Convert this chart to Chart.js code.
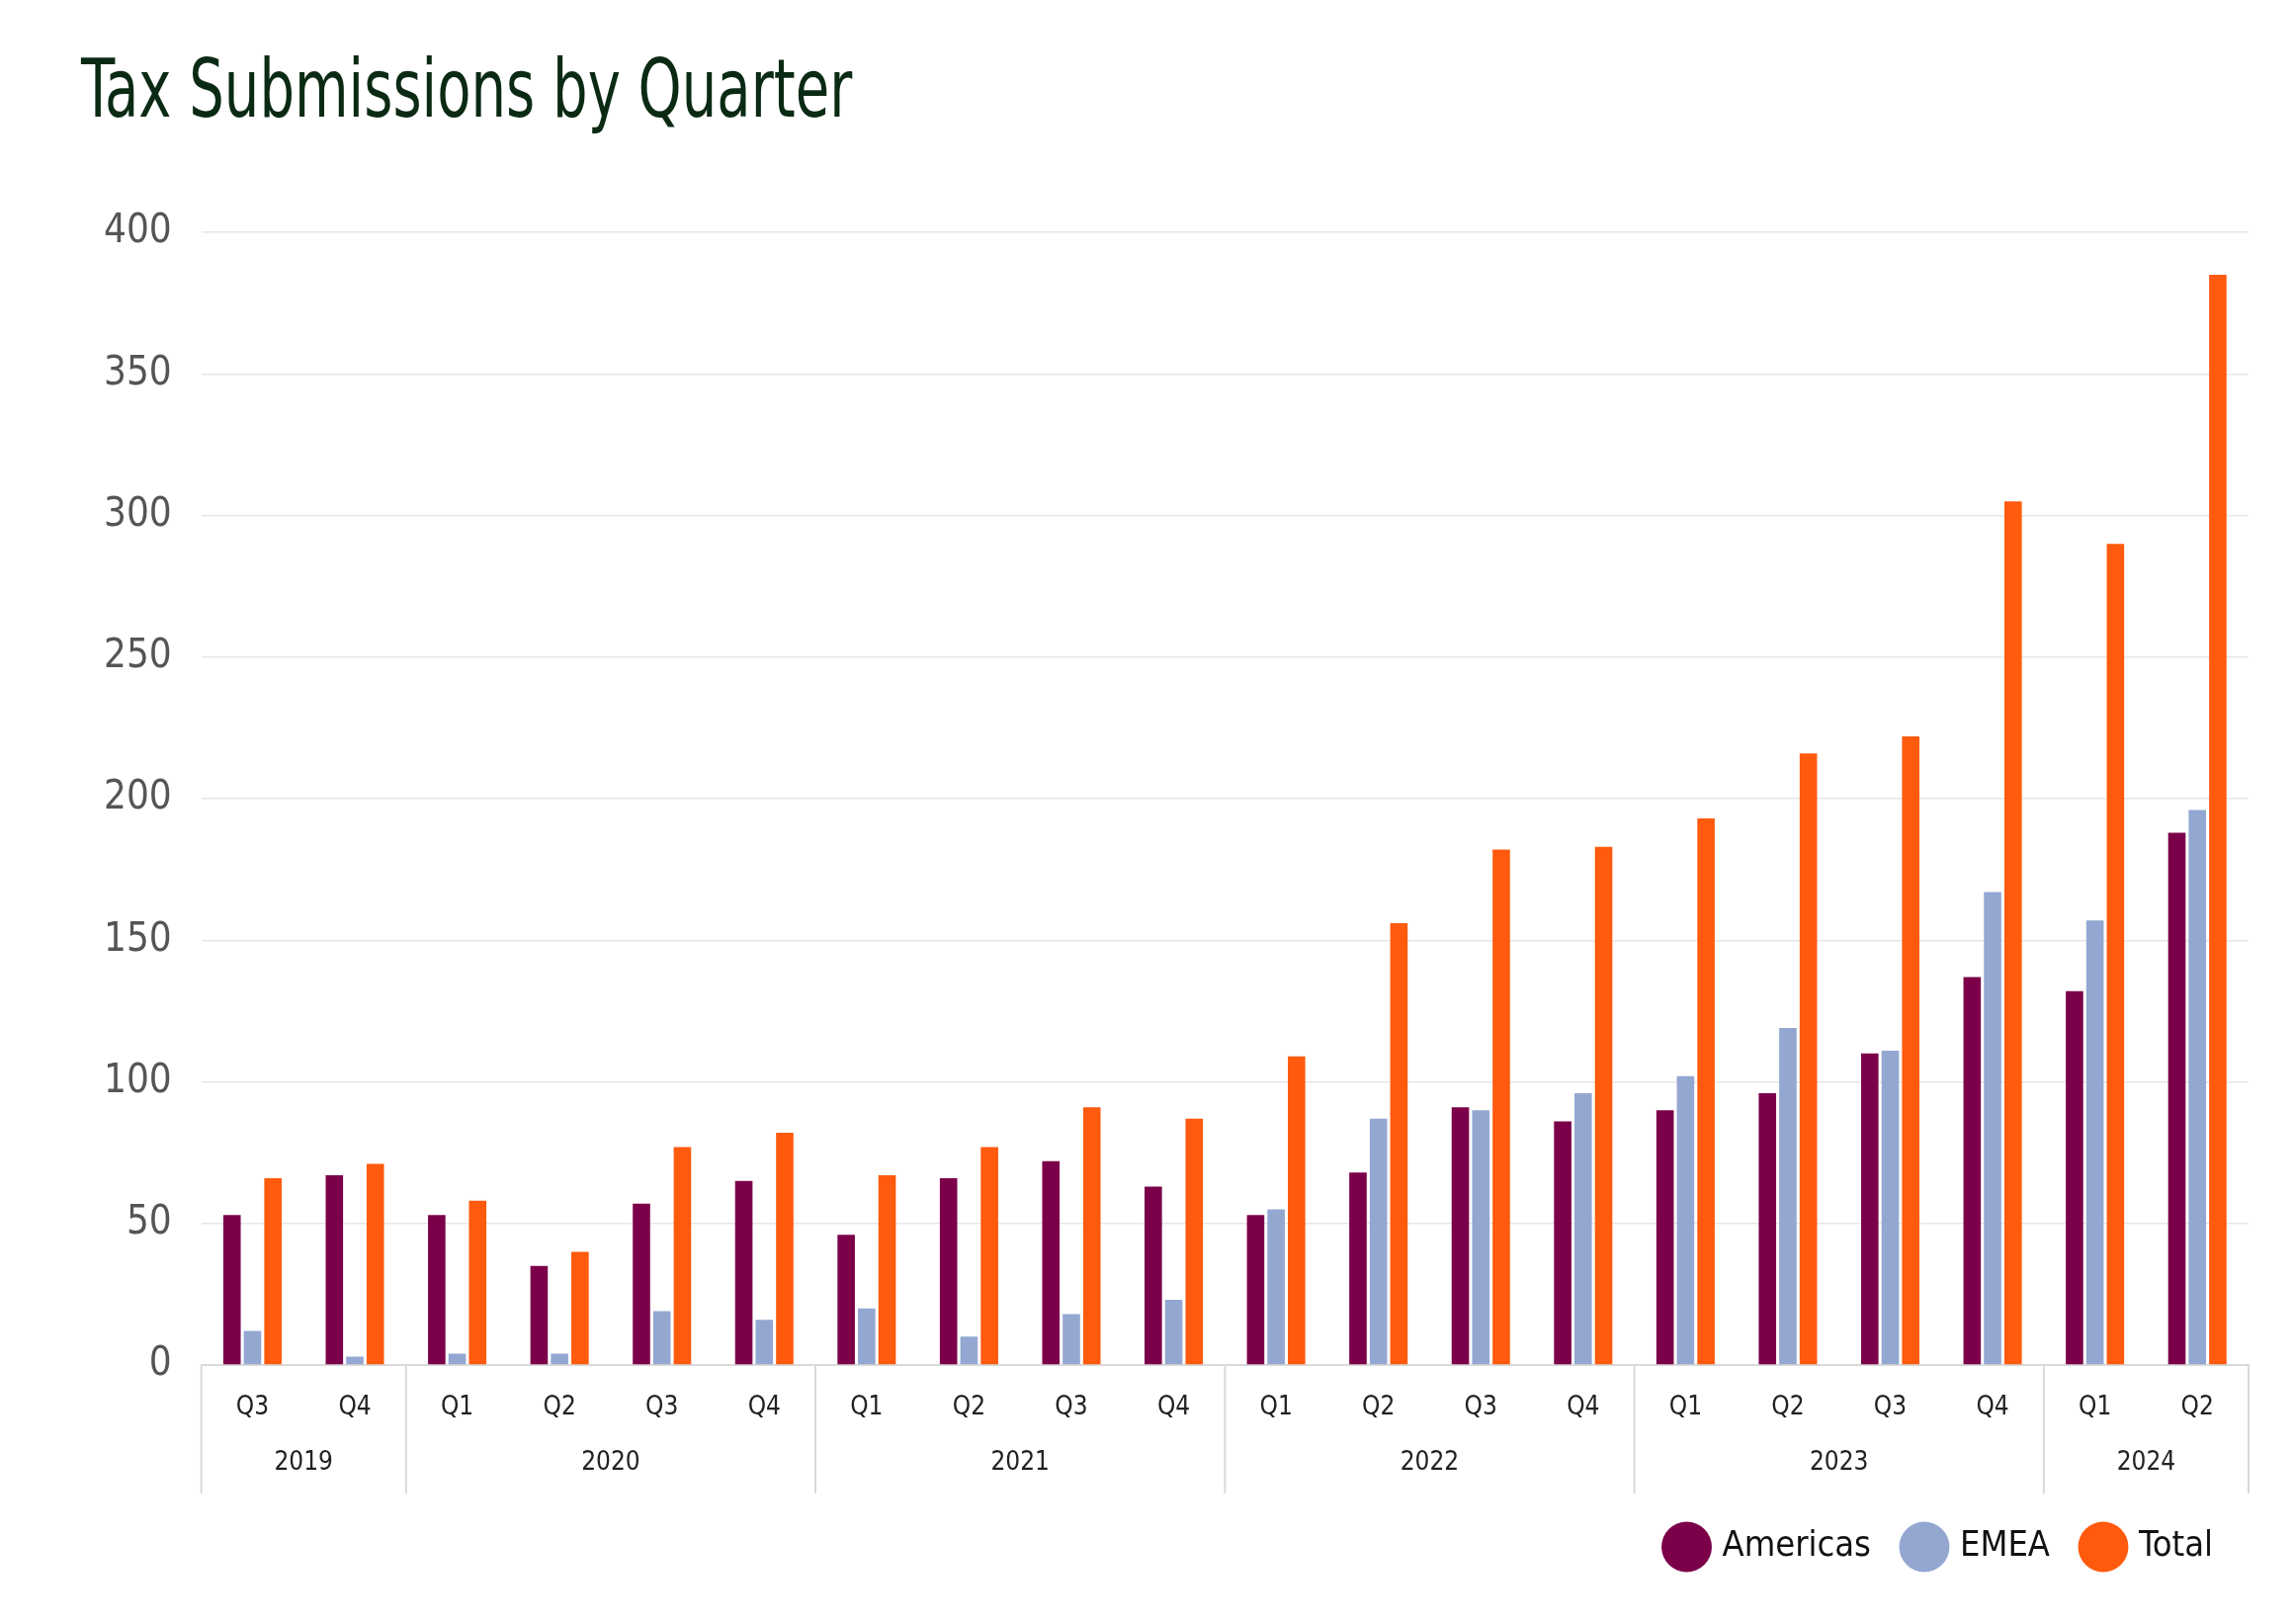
<!DOCTYPE html>
<html>
<head>
<meta charset="utf-8">
<script src="https://cdn.jsdelivr.net/npm/chart.js@4"></script>
<style>
  body { margin: 0; background: #fff; font-family: "Liberation Sans Narrow", "DejaVu Sans Condensed", sans-serif; }
  #title { position: absolute; left: 82px; top: 42px; font-size: 82px; color: #0b2a14; margin: 0; font-weight: normal; transform: scaleX(0.76); transform-origin: left top; white-space: nowrap; }
  #wrap { position: absolute; left: 0; top: 0; width: 2320px; height: 1643px; }
</style>
</head>
<body>
<div id="wrap"><canvas id="chart"></canvas></div>
<h1 id="title">Tax Submissions by Quarter</h1>
<script>
const quarters = ['Q3','Q4','Q1','Q2','Q3','Q4','Q1','Q2','Q3','Q4','Q1','Q2','Q3','Q4','Q1','Q2','Q3','Q4','Q1','Q2'];
const years = [['2019', 2], ['2020', 4], ['2021', 4], ['2022', 4], ['2023', 4], ['2024', 2]];
const americas = [53, 67, 53, 35, 57, 65, 46, 66, 72, 63, 53, 68, 91, 86, 90, 96, 110, 137, 132, 188];
const emea = [12, 3, 4, 4, 19, 16, 20, 10, 18, 23, 55, 87, 90, 96, 102, 119, 111, 167, 157, 196];
const total = [66, 71, 58, 40, 77, 82, 67, 77, 91, 87, 109, 156, 182, 183, 193, 216, 222, 305, 290, 385];

const FONT = '"Liberation Sans Narrow", "DejaVu Sans Condensed", sans-serif';
Chart.defaults.font.family = FONT;

const groupPlugin = {
  id: 'groups',
  afterDraw(chart) {
    const ctx = chart.ctx;
    const x = chart.scales.x;
    const top = x.top, bottom = x.top + 130;
    const half = (x.getPixelForValue(1) - x.getPixelForValue(0)) / 2;
    ctx.save();
    ctx.strokeStyle = '#d9d9d9';
    ctx.lineWidth = 2;
    ctx.fillStyle = '#222';
    ctx.font = '26px ' + FONT;
    ctx.textAlign = 'center';
    ctx.textBaseline = 'middle';
    let idx = 0;
    const line = px => { ctx.beginPath(); ctx.moveTo(px, top); ctx.lineTo(px, bottom); ctx.stroke(); };
    line(x.getPixelForValue(0) - half);
    years.forEach(([label, n]) => {
      const start = x.getPixelForValue(idx) - half;
      const end = x.getPixelForValue(idx + n - 1) + half;
      ctx.fillText(label, (start + end) / 2, top + 99);
      line(end);
      idx += n;
    });
    ctx.restore();
  }
};

new Chart(document.getElementById('chart'), {
  type: 'bar',
  data: {
    labels: quarters,
    datasets: [
      { label: 'Americas', data: americas, backgroundColor: '#7b0049' },
      { label: 'EMEA', data: emea, backgroundColor: '#93a7d1' },
      { label: 'Total', data: total, backgroundColor: '#ff5a0d' }
    ]
  },
  options: {
    responsive: true,
    maintainAspectRatio: false,
    animation: false,
    layout: { padding: { top: 235, left: 75, right: 45, bottom: 50 } },
    datasets: { bar: { categoryPercentage: 0.6, barPercentage: 0.85 } },
    plugins: {
      legend: {
        position: 'bottom',
        align: 'end',
        labels: { usePointStyle: true, pointStyle: 'circle', boxWidth: 42, boxHeight: 42, padding: 36, color: '#111', font: { size: 36 } }
      },
      tooltip: { enabled: false }
    },
    scales: {
      x: {
        grid: { display: false },
        border: { color: '#d9d9d9', width: 2 },
        ticks: { color: '#222', font: { size: 26 }, padding: 20, maxRotation: 0, autoSkip: false },
        afterFit(s) { s.height = 130; }
      },
      y: {
        min: 0, max: 400,
        grid: { color: '#e6e6e6', lineWidth: 1.5, drawTicks: false },
        border: { display: false },
        ticks: { stepSize: 50, color: '#555', font: { size: 40 }, padding: 30 }
      }
    }
  },
  plugins: [groupPlugin]
});
</script>
</body>
</html>
